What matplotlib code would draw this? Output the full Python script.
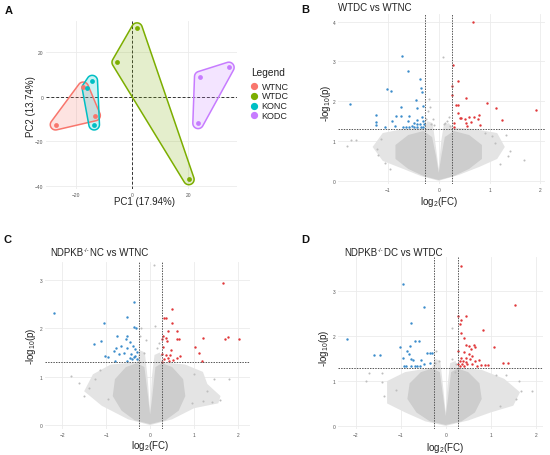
import numpy as np
import matplotlib.pyplot as plt
from matplotlib.lines import Line2D

plt.rcParams['font.family'] = ['Liberation Sans', 'DejaVu Sans']
plt.rcParams['mathtext.fontset'] = 'custom'
plt.rcParams['mathtext.rm'] = 'Liberation Sans'
plt.rcParams['mathtext.it'] = 'Liberation Sans:italic'

W, H = 550, 456

# ---- panel A: PCA scores ----
groups = ['WTNC', 'WTDC', 'KONC', 'KODC']
group_colors = ['#F8766D', '#7CAE00', '#00BFC4', '#C77CFF']
pc1 = {'WTNC': [-27.1, -17.3, -13.1], 'WTDC': [1.8, -5.2, 20.2],
       'KONC': [-14.1, -15.8, -13.4], 'KODC': [24.1, 34.4, 23.5]}
pc2 = {'WTNC': [-12.5, 4.2, -8.4], 'WTDC': [30.7, 15.4, -37.0],
       'KONC': [7.2, 4.0, -12.5], 'KODC': [9.0, 13.1, -11.9]}

# ---- panel B: WTDC vs WTNC ----
b_up_x = [0.68, 0.29, 0.38, 0.27, 0.27, 0.54, 0.94, 1.12, 1.91, 0.34, 0.38, 0.37, 0.41, 0.52,
          0.60, 0.69, 0.80, 0.78, 1.24, 0.30, 0.53, 0.63, 0.81, 0.56, 0.31, 0.43]
b_up_y = [4.00, 2.91, 2.50, 2.39, 2.15, 2.07, 1.95, 1.82, 1.78, 1.91, 1.91, 1.71, 1.59, 1.55,
          1.61, 1.60, 1.65, 1.55, 1.52, 1.45, 1.45, 1.47, 1.41, 1.37, 1.36, 1.57]
b_dn_x = [-1.75, -0.72, -0.60, -0.37, -0.34, -0.32, -1.01, -0.93, -0.44, -0.74, -0.30, -0.43,
          -1.23, -0.84, -0.74, -0.58, -0.33, -0.43, -1.23, -1.24, -0.92, -0.60, -0.48, -0.43,
          -0.36, -0.31, -0.28, -1.06, -0.71, -0.64, -0.58, -0.52, -0.48, -0.42, -0.35, -0.30, -0.86]
b_dn_y = [1.92, 3.13, 2.77, 2.55, 2.32, 2.22, 2.31, 2.25, 2.04, 1.86, 1.87, 1.83,
          1.65, 1.62, 1.62, 1.62, 1.60, 1.54, 1.47, 1.40, 1.49, 1.49, 1.46, 1.43,
          1.43, 1.49, 1.43, 1.34, 1.35, 1.35, 1.36, 1.38, 1.34, 1.36, 1.35, 1.36, 1.38]
b_ns_x = [-1.80, -1.72, -1.63, -1.21, -1.20, -1.14, 0.08, -0.20, -0.12, -0.15, 1.32, 1.41,
          1.36, 1.68, 1.20, 1.04, 0.91, 0.11, -1.05, -0.95, 1.10, 0.20, -0.22, -0.18, 0.16,
          -0.24, 0.23, -0.10, 0.12]
b_ns_y = [0.88, 1.03, 1.02, 0.81, 0.65, 1.06, 3.12, 2.05, 1.55, 1.42, 1.16, 0.75,
          0.63, 0.53, 0.42, 1.13, 1.20, 1.42, 0.45, 0.30, 0.95, 1.60, 1.75, 1.85, 1.50,
          1.55, 1.38, 1.40, 1.45]
b_outer = [(0, 0.0), (0.4, 0.15), (0.8, 0.35), (1.15, 0.55), (1.3, 0.85), (1.15, 1.2), (0.7, 1.3),
           (0.26, 1.34), (0.2, 1.45), (0.1, 1.4), (0.05, 1.0), (0.0, 0.3), (-0.07, 1.0),
           (-0.12, 1.45), (-0.22, 1.5), (-0.28, 1.34), (-0.7, 1.3), (-1.1, 1.2), (-1.3, 0.85),
           (-1.1, 0.5), (-0.7, 0.3), (-0.35, 0.12)]
b_inner = [(0, 0.02), (0.3, 0.12), (0.6, 0.3), (0.85, 0.55), (0.85, 0.9), (0.6, 1.15), (0.3, 1.25),
           (0.12, 1.1), (0.05, 0.6), (0.0, 0.2), (-0.05, 0.6), (-0.13, 1.1), (-0.3, 1.25),
           (-0.6, 1.15), (-0.85, 0.9), (-0.85, 0.55), (-0.6, 0.3), (-0.3, 0.12)]

# ---- panel C: NDPKB-/- NC vs WTNC ----
c_up_x = [1.65, 0.49, 0.32, 0.37, 0.49, 0.60, 0.40, 0.30, 0.36, 0.38, 0.28, 0.61, 0.65, 1.20,
          1.78, 1.71, 2.01, 1.01, 1.12, 0.48, 0.30, 0.27, 0.36, 0.46, 0.67, 0.61, 0.40, 0.51,
          0.31, 1.17, 0.28, 0.42]
c_up_y = [2.93, 2.39, 2.22, 2.21, 2.12, 1.95, 1.94, 1.84, 1.80, 1.74, 1.78, 1.77, 1.77, 1.81,
          1.83, 1.77, 1.77, 1.61, 1.48, 1.55, 1.61, 1.47, 1.45, 1.45, 1.43, 1.39, 1.39, 1.35,
          1.36, 1.32, 1.31, 1.32]
c_dn_x = [-2.18, -0.37, -0.52, -1.06, -0.37, -0.32, -0.76, -0.53, -0.54, -1.11, -1.28, -0.45,
          -0.67, -0.77, -0.53, -0.40, -0.34, -0.29, -1.02, -0.96, -0.83, -0.71, -0.59, -0.43,
          -0.36, -0.41, -0.30, -0.53, -0.80, -0.34, -0.45]
c_dn_y = [2.32, 2.55, 2.24, 2.11, 2.02, 2.00, 1.84, 1.84, 1.78, 1.74, 1.68, 1.72,
          1.64, 1.60, 1.60, 1.64, 1.57, 1.52, 1.42, 1.41, 1.53, 1.46, 1.50, 1.47,
          1.40, 1.36, 1.36, 1.33, 1.32, 1.43, 1.38]
c_ns_x = [0.09, -1.80, -1.61, -1.38, -1.14, 1.46, 1.79, 1.21, 1.59, 1.40, 1.00, -0.10, 0.15,
          -0.20, 0.12, -1.50, -1.25, 1.30, -0.95, 0.95, -0.22, 0.20, -0.15, 0.24]
c_ns_y = [3.31, 1.01, 0.88, 0.77, 1.13, 0.96, 0.95, 0.50, 0.51, 0.48, 1.05, 1.75, 1.60,
          2.00, 2.05, 0.60, 0.95, 0.70, 0.55, 0.45, 1.85, 1.70, 1.50, 1.45]
c_outer = [(0, 0.0), (0.5, 0.12), (1.0, 0.35), (1.55, 0.45), (1.6, 0.6), (1.3, 0.85), (1.2, 1.1),
           (0.8, 1.25), (0.27, 1.3), (0.22, 1.5), (0.1, 1.45), (0.04, 1.0), (0.0, 0.3),
           (-0.06, 1.0), (-0.12, 1.5), (-0.24, 1.55), (-0.3, 1.3), (-0.9, 1.25), (-1.3, 1.05),
           (-1.5, 0.7), (-1.1, 0.4), (-0.5, 0.12)]
c_inner = [(0, 0.02), (0.35, 0.1), (0.65, 0.3), (0.8, 0.6), (0.75, 0.95), (0.5, 1.2), (0.27, 1.28),
           (0.12, 1.2), (0.05, 0.6), (0.0, 0.22), (-0.05, 0.6), (-0.13, 1.2), (-0.3, 1.28),
           (-0.55, 1.2), (-0.8, 0.95), (-0.85, 0.6), (-0.65, 0.3), (-0.35, 0.1)]

# ---- panel D: NDPKB-/- DC vs WTDC ----
d_up_x = [0.33, 1.53, 0.27, 0.46, 0.35, 0.32, 0.82, 0.35, 0.41, 0.46, 0.52, 0.62, 0.64, 1.08,
          0.57, 0.28, 0.40, 0.52, 0.59, 0.34, 0.45, 0.53, 0.31, 0.38, 0.46, 0.66, 0.74, 0.27,
          0.37, 0.48, 0.58, 0.69, 0.79, 0.87, 0.93, 1.28, 1.39, 0.40, 0.32]
d_up_y = [3.57, 2.70, 2.45, 2.46, 2.37, 2.28, 2.13, 2.07, 1.97, 1.81, 1.79, 1.81, 1.75, 1.77,
          1.72, 1.67, 1.64, 1.60, 1.57, 1.51, 1.51, 1.49, 1.44, 1.44, 1.42, 1.44, 1.48, 1.38,
          1.38, 1.38, 1.38, 1.33, 1.35, 1.36, 1.36, 1.40, 1.40, 1.33, 1.33]
d_dn_x = [-2.18, -0.95, -0.48, -0.76, -0.69, -0.59, -1.01, -0.80, -0.85, -0.81, -1.59, -1.45,
          -0.95, -0.77, -0.72, -0.54, -0.41, -0.35, -0.30, -0.88, -0.78, -0.67, -0.56, -0.35,
          -0.48, -0.64, -0.93]
d_dn_y = [1.93, 3.17, 2.66, 2.30, 1.89, 1.89, 1.77, 1.78, 1.68, 1.60, 1.58, 1.58,
          1.51, 1.49, 1.46, 1.46, 1.62, 1.62, 1.62, 1.34, 1.34, 1.34, 1.33, 1.40,
          1.38, 1.33, 1.33]
d_ns_x = [0.14, -1.76, -1.41, -1.41, -1.70, -1.38, 1.62, 1.92, 1.67, 1.55, 1.33, 1.11, -0.21,
          0.20, -1.10, 1.20, -0.15, 0.15, -0.24, 0.22]
d_ns_y = [2.19, 1.01, 0.99, 1.19, 1.19, 0.66, 1.00, 0.77, 0.77, 0.60, 1.13, 1.13, 1.68,
          1.20, 0.80, 0.45, 1.45, 1.50, 1.40, 1.38]
d_outer = [(0, 0.0), (0.5, 0.12), (1.0, 0.3), (1.5, 0.45), (1.65, 0.75), (1.3, 1.05), (0.8, 1.25),
           (0.27, 1.3), (0.22, 1.45), (0.1, 1.4), (0.04, 0.9), (0.0, 0.3), (-0.06, 0.9),
           (-0.12, 1.45), (-0.24, 1.5), (-0.3, 1.3), (-0.9, 1.2), (-1.3, 1.0), (-1.3, 0.5),
           (-0.9, 0.3), (-0.45, 0.1)]
d_inner = [(0, 0.02), (0.35, 0.1), (0.65, 0.3), (0.8, 0.6), (0.75, 0.95), (0.5, 1.2), (0.27, 1.28),
           (0.12, 1.2), (0.05, 0.6), (0.0, 0.22), (-0.05, 0.6), (-0.13, 1.2), (-0.3, 1.28),
           (-0.55, 1.2), (-0.8, 0.95), (-0.85, 0.6), (-0.65, 0.3), (-0.35, 0.1)]

FC_CUT = np.log2(1.2)
P_CUT = -np.log10(0.05)


def px_rect(l, t, r, b):
    return [l / W, 1 - b / H, (r - l) / W, (b - t) / H]


def ftext(x, y, s, **kw):
    return fig.text(x / W, 1 - y / H, s, **kw)


def style(ax, xlim, ylim, xt, yt):
    ax.set_xlim(*xlim)
    ax.set_ylim(*ylim)
    ax.set_xticks(xt)
    ax.set_yticks(yt)
    for sp in ax.spines.values():
        sp.set_visible(False)
    ax.tick_params(length=0, labelsize=3.5, labelcolor='#555555', pad=2)
    ax.grid(True, color='#EBEBEB', linewidth=0.6)
    ax.set_axisbelow(True)


def hull(xs, ys, sx, sy, r=4.0):
    # rounded, expanded convex hull (like geom_mark_hull), built in pixel space
    t = np.linspace(0, 2 * np.pi, 36, endpoint=False)
    pts = []
    for x, y in zip(xs, ys):
        for a in t:
            pts.append((x * sx + r * np.cos(a), y * sy + r * np.sin(a)))
    pts = sorted(set(pts))

    def cross(o, a, b):
        return (a[0] - o[0]) * (b[1] - o[1]) - (a[1] - o[1]) * (b[0] - o[0])
    lower, upper = [], []
    for p in pts:
        while len(lower) >= 2 and cross(lower[-2], lower[-1], p) <= 0:
            lower.pop()
        lower.append(p)
    for p in reversed(pts):
        while len(upper) >= 2 and cross(upper[-2], upper[-1], p) <= 0:
            upper.pop()
        upper.append(p)
    h = np.array(lower[:-1] + upper[:-1])
    return h[:, 0] / sx, h[:, 1] / sy


fig = plt.figure(figsize=(W / 100, H / 100), dpi=100)
renderer = fig.canvas.get_renderer()


def title_ko(x, y, tail):
    # "NDPKB" + small "-/-" superscript + rest of the title
    t1 = ftext(x, y, 'NDPKB', fontsize=7, ha='left', va='center', color='#222222')
    w1 = t1.get_window_extent(renderer).width
    t2 = ftext(x + w1 + 0.3, y - 2.6, '-/-', fontsize=4.2, ha='left', va='center', color='#222222')
    w2 = t2.get_window_extent(renderer).width
    ftext(x + w1 + w2 + 0.8, y, tail, fontsize=7, ha='left', va='center', color='#222222')


# ---------------- A ----------------
axA = fig.add_axes(px_rect(46, 22, 237, 190))
style(axA, (-30.5, 37.3), (-41.3, 33.9), [-20, 0, 20], [-40, -20, 0, 20])
axA.axhline(0, color='#333333', ls=(0, (3, 2)), lw=0.7, zorder=1)
axA.axvline(0, color='#333333', ls=(0, (3, 2)), lw=0.7, zorder=1)
for g, col in zip(groups, group_colors):
    hx, hy = hull(pc1[g], pc2[g], 2.815, 2.235, r=5.3)
    axA.fill(hx, hy, facecolor=col, alpha=0.2, edgecolor='none', zorder=2)
    axA.fill(hx, hy, facecolor='none', edgecolor=col, lw=1.1, zorder=3)
    axA.scatter(pc1[g], pc2[g], s=12, color=col, zorder=4, linewidths=0)

ftext(144, 202, 'PC1 (17.94%)', fontsize=7, ha='center', va='center', color='#222222')
ftext(31, 107, 'PC2 (13.74%)', fontsize=7, ha='center', va='center', rotation=90, color='#222222')
ftext(251.5, 72.5, 'Legend', fontsize=7.3, ha='left', va='center', color='#222222')
for i, (g, col) in enumerate(zip(groups, group_colors)):
    yy = 87.3 + i * 9.6
    fig.add_artist(Line2D([254 / W], [1 - yy / H], marker='o', markersize=4.2, color=col,
                          transform=fig.transFigure, linestyle='none'))
    ftext(261.5, yy, g, fontsize=6.5, ha='left', va='center', color='#222222')


# ---------------- volcano panels ----------------
def volcano(rect, xlim, ylim, xt, yt, up, dn, ns, outer, inner):
    ax = fig.add_axes(rect)
    style(ax, xlim, ylim, xt, yt)
    ox, oy = zip(*outer)
    ix, iy = zip(*inner)
    ax.fill(ox, oy, color='#E4E4E4', lw=0, zorder=1)
    ax.fill(ix, iy, color='#CDCDCD', lw=0, zorder=1)
    ax.scatter(ns[0], ns[1], s=2.2, color='#BEBEBE', linewidths=0, zorder=2)
    ax.scatter(dn[0], dn[1], s=3.0, color='#3C8CCB', linewidths=0, zorder=3)
    ax.scatter(up[0], up[1], s=3.0, color='#E0383A', linewidths=0, zorder=3)
    kw = dict(color='#555555', ls=(0, (1.5, 1.2)), lw=0.7, zorder=4)
    ax.axvline(-FC_CUT, **kw)
    ax.axvline(FC_CUT, **kw)
    ax.axhline(P_CUT, **kw)
    return ax


volcano(px_rect(338, 15, 545, 185), (-1.98, 2.09), (-0.08, 4.19), [-1, 0, 1, 2], [0, 1, 2, 3, 4],
        (b_up_x, b_up_y), (b_dn_x, b_dn_y), (b_ns_x, b_ns_y), b_outer, b_inner)
volcano(px_rect(45, 263, 250, 430), (-2.39, 2.27), (-0.08, 3.37), [-2, -1, 0, 1, 2], [0, 1, 2, 3],
        (c_up_x, c_up_y), (c_dn_x, c_dn_y), (c_ns_x, c_ns_y), c_outer, c_inner)
volcano(px_rect(338, 258, 543, 430), (-2.39, 2.16), (-0.07, 3.77), [-2, -1, 0, 1, 2], [0, 1, 2, 3],
        (d_up_x, d_up_y), (d_dn_x, d_dn_y), (d_ns_x, d_ns_y), d_outer, d_inner)

ftext(338.5, 8, 'WTDC vs WTNC', fontsize=7, ha='left', va='center', color='#222222')
title_ko(50.5, 253, 'NC vs WTNC')
title_ko(344, 253, 'DC vs WTDC')

for (x, y) in [(439, 202), (150, 446), (445, 448)]:
    ftext(x, y, 'log$_2$(FC)', fontsize=7, ha='center', va='center', color='#222222')
for (x, y) in [(326, 103), (30.5, 346), (324, 348)]:
    ftext(x, y, '-log$_{10}$(p)', fontsize=7, ha='center', va='center', rotation=90, color='#222222')

for (x, y, s) in [(8.5, 11, 'A'), (305, 10, 'B'), (7.5, 240, 'C'), (305.5, 240, 'D')]:
    ftext(x, y, s, fontsize=8, fontweight='bold', ha='center', va='center', color='#111111')

fig.savefig('out.png', dpi=100)
